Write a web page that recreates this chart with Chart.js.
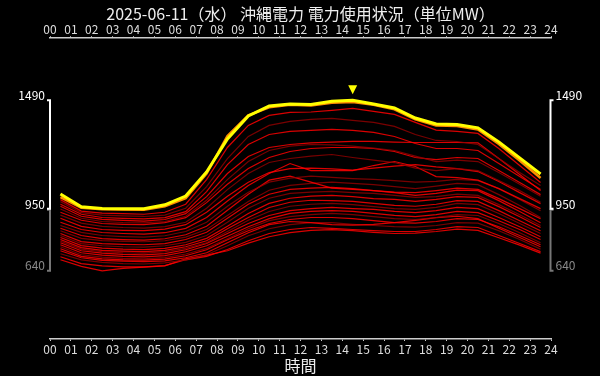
<!DOCTYPE html>
<html lang="ja">
<head>
<meta charset="UTF-8">
<title>沖縄電力 電力使用状況</title>
<script src="https://cdn.jsdelivr.net/npm/chart.js@4"></script>
<style>
  html, body { margin: 0; padding: 0; background: #000; }
  #chart { display: block; }
</style>
</head>
<body>
<canvas id="chart" width="600" height="376"></canvas>
<script>
// 時刻 (各時間帯の中央)
const hours = [0.5, 1.5, 2.5, 3.5, 4.5, 5.5, 6.5, 7.5, 8.5, 9.5, 10.5, 11.5,
  12.5, 13.5, 14.5, 15.5, 16.5, 17.5, 18.5, 19.5, 20.5, 21.5, 22.5, 23.5]
const hourLabels = ['00', '01', '02', '03', '04', '05', '06', '07', '08', '09', '10', '11', '12',
  '13', '14', '15', '16', '17', '18', '19', '20', '21', '22', '23', '24']

// 当日 (黄) と前日 (橙)
const today = [1023, 959, 951, 950, 950, 969, 1013, 1133, 1298, 1412, 1462, 1472,
  1470, 1485, 1490, 1472, 1452, 1402, 1372, 1370, 1353, 1283, 1203, 1123]
const yesterday = [1008, 955, 947, 946, 945, 962, 1002, 1125, 1312, 1415, 1455, 1468,
  1465, 1478, 1482, 1468, 1445, 1395, 1365, 1362, 1345, 1272, 1190, 1103]

// 過去の日 (赤)
const d01 = [995, 938, 928, 925, 922, 932, 972, 1095, 1255, 1365, 1415, 1430, 1432, 1440, 1450, 1435, 1420, 1380, 1342, 1335, 1325, 1250, 1165, 1080]
const d02 = [985, 930, 918, 914, 911, 918, 952, 1060, 1200, 1310, 1365, 1385, 1395, 1400, 1390, 1380, 1360, 1320, 1290, 1285, 1270, 1200, 1130, 1065]
const d03 = [972, 922, 906, 902, 899, 905, 935, 1035, 1170, 1270, 1320, 1335, 1340, 1345, 1340, 1330, 1310, 1275, 1250, 1250, 1240, 1175, 1110, 1045]
const d04 = [962, 912, 897, 892, 888, 896, 925, 1010, 1125, 1210, 1255, 1270, 1278, 1282, 1285, 1285, 1282, 1280, 1280, 1280, 1278, 1200, 1120, 1040]
const d05 = [948, 902, 886, 881, 879, 886, 912, 992, 1095, 1185, 1240, 1262, 1270, 1268, 1262, 1252, 1240, 1212, 1185, 1192, 1185, 1130, 1072, 1012]
const d06 = [932, 892, 876, 872, 870, 880, 905, 980, 1072, 1150, 1205, 1235, 1250, 1255, 1255, 1250, 1235, 1205, 1195, 1205, 1200, 1140, 1080, 1020]
const d07 = [918, 878, 862, 856, 853, 860, 882, 952, 1045, 1125, 1180, 1200, 1212, 1220, 1205, 1192, 1180, 1152, 1140, 1150, 1140, 1090, 1040, 982]
const d08 = [902, 862, 846, 842, 840, 848, 870, 932, 1012, 1082, 1130, 1150, 1152, 1148, 1142, 1152, 1162, 1170, 1158, 1150, 1135, 1085, 1030, 975]
const d09 = [882, 846, 831, 826, 823, 830, 852, 906, 988, 1065, 1125, 1175, 1140, 1140, 1140, 1165, 1185, 1160, 1110, 1105, 1092, 1050, 1000, 950]
const d10 = [866, 832, 816, 811, 808, 815, 836, 882, 962, 1032, 1082, 1102, 1112, 1106, 1100, 1096, 1090, 1082, 1086, 1096, 1090, 1050, 996, 940]
const d11 = [852, 816, 801, 796, 793, 800, 820, 862, 942, 1022, 1092, 1112, 1082, 1052, 1046, 1040, 1032, 1030, 1040, 1052, 1046, 1000, 950, 900]
const d12 = [840, 802, 791, 787, 785, 790, 808, 846, 916, 986, 1042, 1066, 1076, 1082, 1076, 1070, 1060, 1050, 1062, 1076, 1070, 1020, 966, 906]
const d13 = [826, 786, 776, 772, 770, 776, 796, 832, 902, 972, 1022, 1046, 1052, 1056, 1050, 1040, 1030, 1016, 1026, 1042, 1040, 990, 936, 880]
const d14 = [816, 776, 765, 760, 758, 765, 782, 816, 882, 952, 1002, 1026, 1032, 1036, 1030, 1026, 1016, 1006, 1010, 1022, 1016, 970, 920, 866]
const d15 = [806, 766, 753, 748, 746, 752, 770, 802, 862, 926, 976, 1002, 1012, 1016, 1010, 1000, 996, 986, 996, 1010, 1006, 960, 910, 856]
const d16 = [796, 756, 742, 738, 736, 742, 760, 790, 850, 906, 956, 982, 992, 990, 986, 976, 966, 962, 972, 990, 986, 940, 890, 840]
const d17 = [788, 748, 735, 730, 728, 735, 752, 780, 836, 892, 936, 962, 972, 976, 970, 960, 950, 946, 956, 976, 970, 926, 876, 826]
const d18 = [780, 740, 728, 722, 720, 726, 745, 776, 826, 876, 916, 940, 950, 956, 950, 946, 936, 930, 940, 956, 950, 906, 860, 810]
const d19 = [770, 730, 718, 712, 710, 716, 735, 765, 812, 860, 900, 926, 936, 940, 936, 926, 916, 910, 920, 936, 930, 890, 846, 796]
const d20 = [760, 720, 708, 702, 700, 706, 724, 752, 800, 850, 890, 910, 920, 926, 920, 910, 900, 896, 906, 920, 916, 876, 830, 780]
const d21 = [750, 712, 700, 695, 693, 698, 715, 745, 795, 840, 876, 896, 906, 906, 900, 890, 880, 878, 886, 900, 896, 860, 816, 770]
const d22 = [740, 705, 692, 688, 686, 690, 705, 730, 780, 830, 870, 886, 880, 870, 868, 872, 880, 892, 905, 912, 900, 852, 806, 760]
const d23 = [725, 695, 682, 676, 674, 680, 695, 720, 765, 815, 850, 870, 880, 880, 872, 866, 860, 858, 866, 880, 878, 840, 796, 748]
const d24 = [710, 676, 665, 660, 660, 666, 695, 712, 746, 790, 826, 846, 856, 852, 846, 840, 836, 836, 846, 860, 856, 816, 776, 736]
const d25 = [695, 662, 640, 652, 658, 665, 700, 718, 740, 778, 810, 830, 842, 845, 840, 832, 826, 828, 836, 848, 842, 805, 768, 728]
const pastDays = [d01, d02, d03, d04, d05, d06, d07, d08, d09, d10, d11, d12, d13,
  d14, d15, d16, d17, d18, d19, d20, d21, d22, d23, d24, d25]

// 線の明るさ b=明 d=暗
const pastShade = ['b', 'd', 'b', 'b', 'd', 'b', 'd', 'b', 'b', 'd', 'b', 'd', 'b',
  'd', 'b', 'b', 'd', 'b', 'b', 'd', 'b', 'b', 'd', 'b', 'b']

const FONT = '"Noto Sans CJK JP", "Noto Sans", sans-serif'

const toPoints = (vals) => vals.map((v, i) => ({ x: hours[i], y: v }))

const datasets = [
  { data: toPoints(today), borderColor: '#ffff00', borderWidth: 3, order: 0 },
  { data: toPoints(yesterday), borderColor: '#ff8c00', borderWidth: 2.5, order: 1 },
  ...pastDays.map((d, i) => ({
    data: toPoints(d),
    borderColor: pastShade[i] === 'b' ? 'rgba(255,0,0,0.85)' : 'rgba(150,0,0,0.8)',
    borderWidth: 1.2,
    order: 2,
  })),
]

// 左右の範囲ブラケットと最大値マーカー
const rangeBracket = {
  id: 'rangeBracket',
  afterDatasetsDraw(chart) {
    const { ctx, chartArea, scales } = chart
    const ys = scales.y
    const xs = scales.x
    const top = Math.max(...today)
    const mid = Math.min(...today)
    const low = Math.min(...today, ...yesterday, ...pastDays.flat())
    const yTop = ys.getPixelForValue(top)
    const yMid = ys.getPixelForValue(mid)
    const yLow = ys.getPixelForValue(low)

    ctx.save()
    const seg = (x, y1, y2, color, dir) => {
      ctx.strokeStyle = color
      ctx.lineWidth = 2
      ctx.beginPath()
      ctx.moveTo(x + dir * 3, y1)
      ctx.lineTo(x, y1)
      ctx.lineTo(x, y2)
      ctx.lineTo(x + dir * 3, y2)
      ctx.stroke()
    }
    const sides = [
      { x: chartArea.left, dir: -1, align: 'right' },
      { x: chartArea.right - 0.5, dir: 1, align: 'left' },
    ]
    ctx.font = '12px ' + FONT
    ctx.textBaseline = 'middle'
    sides.forEach((s) => {
      seg(s.x, yMid + 1, yLow, '#777', s.dir)
      seg(s.x, yTop, yMid, '#fff', s.dir)
      ctx.textAlign = s.align
      const tx = s.x + s.dir * 5
      ctx.fillStyle = '#fff'
      ctx.fillText(String(top), tx, yTop - 5)
      ctx.fillText(String(mid), tx, yMid - 4)
      ctx.fillStyle = '#888'
      ctx.fillText(String(low), tx, yLow - 5)
    })

    // 最大値の位置に黄色の三角
    const px = xs.getPixelForValue(hours[today.indexOf(top)])
    ctx.fillStyle = '#ffff00'
    ctx.beginPath()
    ctx.moveTo(px - 4.5, yTop - 15)
    ctx.lineTo(px + 4.5, yTop - 15)
    ctx.lineTo(px, yTop - 6)
    ctx.closePath()
    ctx.fill()
    ctx.restore()
  },
}

const xAxisBase = {
  type: 'linear',
  min: 0,
  max: 24,
  grid: { drawOnChartArea: false, drawTicks: true, tickLength: 2, color: '#ccc' },
  border: { color: '#ccc', width: 1.5 },
}

new Chart(document.getElementById('chart'), {
  type: 'line',
  data: { datasets },
  options: {
    responsive: false,
    animation: false,
    layout: { padding: { left: 50, right: 49, top: 0, bottom: 0 } },
    elements: { point: { radius: 0 }, line: { tension: 0 } },
    plugins: {
      legend: { display: false },
      tooltip: { enabled: false },
      title: {
        display: true,
        text: '2025-06-11（水） 沖縄電力 電力使用状況（単位MW）',
        color: '#eee',
        font: { family: FONT, size: 16, weight: 'normal' },
        padding: { top: 4, bottom: 0 },
      },
    },
    scales: {
      x: {
        ...xAxisBase,
        position: 'bottom',
        ticks: {
          stepSize: 1, autoSkip: false, maxRotation: 0, padding: 1,
          color: '#ddd', font: { family: FONT, size: 12 },
          callback: (v) => hourLabels[v],
        },
        title: {
          display: true, text: '時間', color: '#eee', padding: 0,
          font: { family: FONT, size: 16 },
        },
        afterFit: (s) => { s.height = 37 },
      },
      xTop: {
        ...xAxisBase,
        position: 'top',
        ticks: {
          stepSize: 1, autoSkip: false, maxRotation: 0, padding: 0,
          color: '#ddd', font: { family: FONT, size: 12 },
          callback: (v) => hourLabels[v],
        },
        afterFit: (s) => { s.height = 15 },
      },
      y: { display: false, min: 300, max: 1800 },
    },
  },
  plugins: [rangeBracket],
})
</script>
</body>
</html>
